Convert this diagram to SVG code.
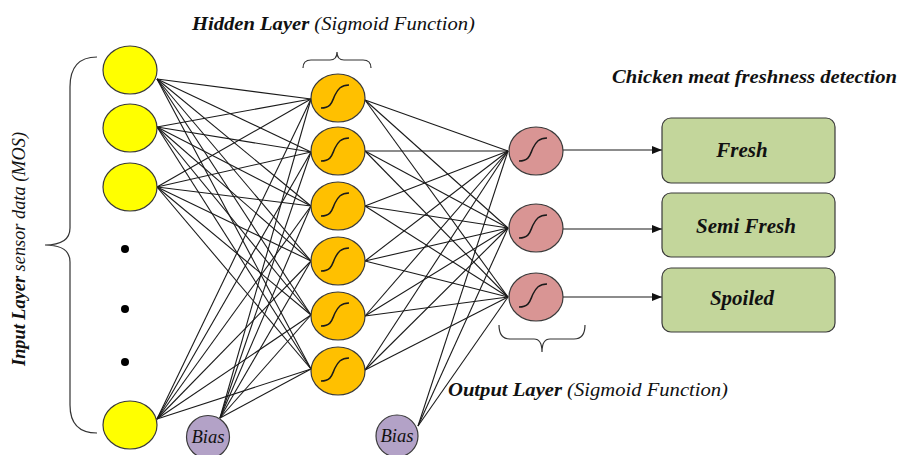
<svg xmlns="http://www.w3.org/2000/svg" xmlns:xlink="http://www.w3.org/1999/xlink" width="899" height="455" viewBox="0 0 899 455">
<style>
  .lbl { font-family: "Liberation Serif", "Times New Roman", serif; font-size: 18px; fill: #111; font-style: italic; }
  .b { font-weight: bold; }
  .n { font-weight: normal; }
  .inp { fill: #ffff00; stroke: #3a3a3a; stroke-width: 1.2; }
  .hid { fill: #ffc000; stroke: #3a3a3a; stroke-width: 1.2; }
  .out { fill: #d99594; stroke: #3a3a3a; stroke-width: 1.2; }
  .bias { fill: #b3a2c7; stroke: #3a3a3a; stroke-width: 1.2; }
  .box { fill: #c3d69b; stroke: #3a3a3a; stroke-width: 1.2; }
  .sig { fill: none; stroke: #1a1a1a; stroke-width: 1.5; }
  .brace { fill: none; stroke: #333; stroke-width: 1.2; }
  .conn line { stroke: #1a1a1a; stroke-width: 1.1; }
  .arr { stroke: #111; stroke-width: 1.2; marker-end: url(#ah); }
  .boxtxt { font-family: "Liberation Serif", "Times New Roman", serif; font-size: 21px; font-weight: bold; font-style: italic; fill: #111; text-anchor: middle; }
  .biastxt { font-family: "Liberation Serif", "Times New Roman", serif; font-size: 18px; font-style: italic; fill: #111; text-anchor: middle; }
</style>
<defs>
  <path id="sg" class="sig" d="M -17 10 C -6 10, -6 3, -3 -3 S 3 -13, 11 -13"/>
  <marker id="ah" markerWidth="10" markerHeight="8" refX="10" refY="4" orient="auto" markerUnits="userSpaceOnUse">
    <path d="M0,0 L10,4 L0,8 Z" fill="#111"/>
  </marker>
</defs>
<rect width="899" height="455" fill="#ffffff"/>

<!-- connectors -->
<g id="connectors" class="conn">
  <!-- input -> hidden -->
  <line x1="157" y1="79" x2="311" y2="99"/><line x1="157" y1="79" x2="311" y2="152"/><line x1="157" y1="79" x2="311" y2="206"/><line x1="157" y1="79" x2="311" y2="261"/><line x1="157" y1="79" x2="311" y2="315"/><line x1="157" y1="79" x2="311" y2="369"/>
  <line x1="157" y1="127" x2="311" y2="99"/><line x1="157" y1="127" x2="311" y2="152"/><line x1="157" y1="127" x2="311" y2="206"/><line x1="157" y1="127" x2="311" y2="261"/><line x1="157" y1="127" x2="311" y2="315"/><line x1="157" y1="127" x2="311" y2="369"/>
  <line x1="157" y1="187" x2="311" y2="99"/><line x1="157" y1="187" x2="311" y2="152"/><line x1="157" y1="187" x2="311" y2="206"/><line x1="157" y1="187" x2="311" y2="261"/><line x1="157" y1="187" x2="311" y2="315"/><line x1="157" y1="187" x2="311" y2="369"/>
  <line x1="157" y1="419" x2="311" y2="99"/><line x1="157" y1="419" x2="311" y2="152"/><line x1="157" y1="419" x2="311" y2="206"/><line x1="157" y1="419" x2="311" y2="261"/><line x1="157" y1="419" x2="311" y2="315"/><line x1="157" y1="419" x2="311" y2="369"/>
  <!-- bias1 -> hidden -->
  <line x1="220" y1="418" x2="311" y2="99"/><line x1="220" y1="418" x2="311" y2="152"/><line x1="220" y1="418" x2="311" y2="206"/><line x1="220" y1="418" x2="311" y2="261"/><line x1="220" y1="418" x2="311" y2="315"/><line x1="220" y1="418" x2="311" y2="369"/>
  <!-- hidden -> output -->
  <line x1="365" y1="100" x2="508" y2="151"/><line x1="365" y1="100" x2="508" y2="228"/><line x1="365" y1="100" x2="508" y2="297"/>
  <line x1="365" y1="151" x2="508" y2="151"/><line x1="365" y1="151" x2="508" y2="228"/><line x1="365" y1="151" x2="508" y2="297"/>
  <line x1="365" y1="206" x2="508" y2="151"/><line x1="365" y1="206" x2="508" y2="228"/><line x1="365" y1="206" x2="508" y2="297"/>
  <line x1="365" y1="261" x2="508" y2="151"/><line x1="365" y1="261" x2="508" y2="228"/><line x1="365" y1="261" x2="508" y2="297"/>
  <line x1="365" y1="316" x2="508" y2="151"/><line x1="365" y1="316" x2="508" y2="228"/><line x1="365" y1="316" x2="508" y2="297"/>
  <line x1="365" y1="370" x2="508" y2="151"/><line x1="365" y1="370" x2="508" y2="228"/><line x1="365" y1="370" x2="508" y2="297"/>
  <!-- bias2 -> output -->
  <line x1="418" y1="426" x2="508" y2="151"/><line x1="418" y1="426" x2="508" y2="228"/><line x1="418" y1="426" x2="508" y2="297"/>
  <!-- output -> classes -->
  <line class="arr" x1="563" y1="150" x2="662" y2="150"/>
  <line class="arr" x1="563" y1="229" x2="662" y2="229"/>
  <line class="arr" x1="563" y1="297" x2="662" y2="297"/>
</g>

<!-- braces -->
<path class="brace" d="M 97 57 Q 70 57 70 87 L 70 228 Q 70 245 45 245 Q 70 245 70 262 L 70 405 Q 70 433 97 433"/>
<path class="brace" d="M 303 68 Q 303 60 311 60 L 330 60 Q 337 60 337 52 Q 337 60 344 60 L 363 60 Q 371 60 371 68"/>
<path class="brace" d="M 499 325 Q 499 339 510 339 L 534 339 Q 542 339 542 352 Q 542 339 550 339 L 574 339 Q 585 339 585 325"/>

<!-- input nodes -->
<g id="in1"><ellipse class="inp" cx="130" cy="70" rx="27" ry="24"/></g>
<g id="in2"><ellipse class="inp" cx="130" cy="128" rx="27" ry="24"/></g>
<g id="in3"><ellipse class="inp" cx="130" cy="187" rx="27" ry="24"/></g>
<g id="dots"><circle cx="125" cy="249" r="4" fill="#000"/><circle cx="125" cy="309" r="4" fill="#000"/><circle cx="125" cy="362" r="4" fill="#000"/></g>
<g id="in4"><ellipse class="inp" cx="130" cy="425" rx="27" ry="24"/></g>

<!-- hidden nodes -->
<g id="h1"><ellipse class="hid" cx="338" cy="98" rx="27" ry="24"/><use xlink:href="#sg" href="#sg" x="338" y="98"/></g>
<g id="h2"><ellipse class="hid" cx="338" cy="151" rx="27" ry="24"/><use xlink:href="#sg" href="#sg" x="338" y="151"/></g>
<g id="h3"><ellipse class="hid" cx="338" cy="206" rx="27" ry="24"/><use xlink:href="#sg" href="#sg" x="338" y="206"/></g>
<g id="h4"><ellipse class="hid" cx="338" cy="261" rx="27" ry="24"/><use xlink:href="#sg" href="#sg" x="338" y="261"/></g>
<g id="h5"><ellipse class="hid" cx="338" cy="316" rx="27" ry="24"/><use xlink:href="#sg" href="#sg" x="338" y="316"/></g>
<g id="h6"><ellipse class="hid" cx="338" cy="371" rx="27" ry="24"/><use xlink:href="#sg" href="#sg" x="338" y="371"/></g>

<!-- output nodes -->
<g id="o1"><ellipse class="out" cx="536" cy="151" rx="27" ry="24"/><use xlink:href="#sg" href="#sg" x="536" y="151"/></g>
<g id="o2"><ellipse class="out" cx="536" cy="228" rx="27" ry="24"/><use xlink:href="#sg" href="#sg" x="536" y="228"/></g>
<g id="o3"><ellipse class="out" cx="536" cy="297" rx="27" ry="24"/><use xlink:href="#sg" href="#sg" x="536" y="297"/></g>

<!-- bias nodes -->
<g id="bias1"><circle class="bias" cx="208" cy="437" r="21.5"/><text class="biastxt" x="208" y="443" textLength="33" lengthAdjust="spacingAndGlyphs">Bias</text></g>
<g id="bias2"><circle class="bias" cx="397" cy="436" r="21"/><text class="biastxt" x="397" y="442" textLength="33" lengthAdjust="spacingAndGlyphs">Bias</text></g>

<!-- class boxes -->
<g id="fresh"><rect class="box" x="662" y="118" width="173" height="65" rx="9"/><text class="boxtxt" x="742" y="157">Fresh</text></g>
<g id="semifresh"><rect class="box" x="662" y="193" width="173" height="64" rx="9"/><text class="boxtxt" x="746" y="233">Semi Fresh</text></g>
<g id="spoiled"><rect class="box" x="662" y="268" width="173" height="64" rx="9"/><text class="boxtxt" x="742" y="305">Spoiled</text></g>

<!-- labels -->
<text class="lbl" x="192" y="30" textLength="283" lengthAdjust="spacingAndGlyphs"><tspan class="b">Hidden Layer</tspan><tspan class="n"> (Sigmoid Function)</tspan></text>
<text class="lbl b" x="612" y="83" textLength="285" lengthAdjust="spacingAndGlyphs">Chicken meat freshness detection</text>
<text class="lbl" x="448" y="396" textLength="280" lengthAdjust="spacingAndGlyphs"><tspan class="b">Output Layer</tspan><tspan class="n"> (Sigmoid Function)</tspan></text>
<text class="lbl" x="25" y="366" transform="rotate(-90 25 366)" textLength="234" lengthAdjust="spacingAndGlyphs"><tspan class="b">Input Layer</tspan><tspan class="n"> sensor data (MOS)</tspan></text>
</svg>
